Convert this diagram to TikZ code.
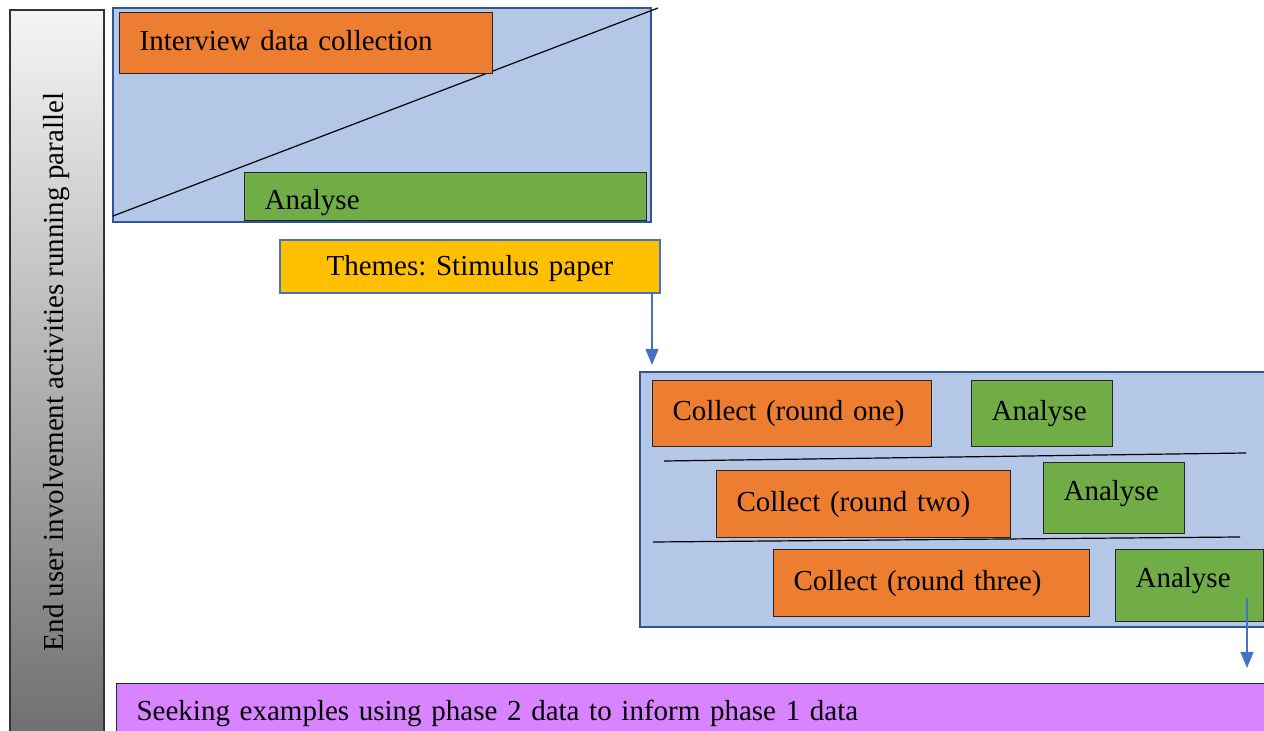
\documentclass[tikz,border=0pt]{standalone}
\usepackage{fontspec}
\setmainfont{Liberation Serif}
\usetikzlibrary{arrows.meta}
\definecolor{paneblue}{HTML}{B4C7E7}
\definecolor{paneedge}{HTML}{2F5597}
\definecolor{flowblue}{HTML}{4472C4}
\definecolor{taskorange}{HTML}{ED7D31}
\definecolor{taskgreen}{HTML}{70AD47}
\definecolor{themeyellow}{HTML}{FFC000}
\definecolor{seekpurple}{HTML}{D883FF}
\frenchspacing

\begin{document}
\begin{tikzpicture}[x=0.5pt,y=-0.5pt,font=\fontsize{14.5}{17}\selectfont,
    pane/.style={draw=paneedge,fill=paneblue,line width=1.2pt},
    task/.style={draw=black!85,line width=0.6pt,anchor=north west,inner xsep=10pt,inner ysep=0pt,
        align=left,text height=10pt,text depth=3pt},
    collect/.style={task,fill=taskorange},
    analyse/.style={task,fill=taskgreen},
    flow/.style={draw=flowblue,line width=0.6pt,-{Triangle[width=6.5pt,length=8pt]}}]
      \useasboundingbox (0,0) rectangle (1264,731);
      \clip (0,0) rectangle (1264,731);
      % side bar
      \shade[top color=black!4,bottom color=black!58,draw=black!80,line width=0.6pt] (10,10) rectangle (104,760);
      \node[rotate=90] (barlabel) at (57,372) {End user involvement activities running parallel};
      % phase one
      \draw[pane] (113,8) rectangle (651,222);
      \draw[line width=0.6pt] (113,216) -- (658,8);
      \node[collect,text width=166.5pt,minimum height=30.5pt] (interview) at (119,12) {Interview data collection};
      \node[analyse,text width=181pt,minimum height=24pt,text height=16pt] (analyse0) at (244,172) {Analyse};
      \node[task,fill=themeyellow,draw=flowblue,line width=0.9pt,align=center,text width=170pt,minimum height=26.5pt,text height=12pt] (themes) at (279,239) {Themes: Stimulus paper};
      % rounds
      \draw[pane] (640,372) rectangle (1280,627);
      \draw[line width=0.6pt] (664,461) -- (1246,453);
      \draw[line width=0.6pt] (653,542) -- (1240,537);
      \node[collect,text width=119.5pt,minimum height=33pt] (collect1) at (652,380) {Collect (round one)};
      \node[analyse,text width=50.5pt,minimum height=33pt] (analyse1) at (971,380) {Analyse};
      \node[collect,text width=127pt,minimum height=33.5pt] (collect2) at (716,470) {Collect (round two)};
      \node[analyse,text width=50.5pt,minimum height=35.5pt,text depth=8pt] (analyse2) at (1043,462) {Analyse};
      \node[collect,text width=138pt,minimum height=33.5pt] (collect3) at (773,549) {Collect (round three)};
      \node[analyse,text width=54pt,minimum height=36pt,text depth=8pt] (analyse3) at (1115,549) {Analyse};
      \node[task,fill=seekpurple,text width=557pt,inner ysep=8.5pt,text depth=6pt] (seek) at (116,683) {Seeking examples using phase 2 data to inform phase 1 data};
      % arrows
      \coordinate (drop1) at (652,365);
      \draw[flow] (themes.south east -| drop1) -- (drop1);
      \coordinate (rise2) at (1247,598);
      \coordinate (drop2) at (1247,668);
      \draw[flow] (rise2) -- (drop2);
\end{tikzpicture}
\end{document}
